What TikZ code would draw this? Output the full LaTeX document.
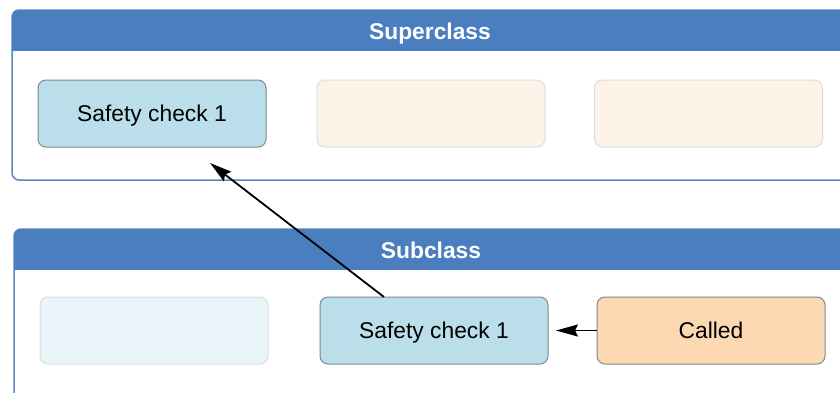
\documentclass[tikz,border=0pt]{standalone}
\usepackage{fontspec}
\setmainfont{Liberation Sans}
\usetikzlibrary{arrows.meta}
\definecolor{hdr}{HTML}{4A7EBF}
\definecolor{frm}{HTML}{5A87C4}
\definecolor{lblue}{HTML}{BADFEA}
\definecolor{pblue}{HTML}{E9F5F9}
\definecolor{peach}{HTML}{FCD9B2}
\definecolor{pcream}{HTML}{FDF3E8}
\definecolor{bgrey}{HTML}{7F8A8E}
\definecolor{lgrey}{HTML}{DDDDDD}
\tikzset{
  box/.style={draw=bgrey, line width=1pt, rounded corners=8pt, minimum width=228pt, minimum height=67pt, inner sep=0pt, text depth=0pt, font=\fontsize{22.8}{27}\selectfont},
  ghost/.style={box, draw=lgrey},
  frame/.style={draw=frm, line width=1.5pt, fill=white, rounded corners=7pt},
  header/.style={fill=hdr, rounded corners=7pt},
  htext/.style={text=white, text depth=0pt, font=\fontsize{22.8}{27}\selectfont\bfseries},
  arr/.style={-{Stealth[length=22pt,width=12pt,inset=3pt]}, line width=1.8pt, black}
}
\begin{document}
\begin{tikzpicture}[x=1pt,y=-1pt]
\clip (0,0) rectangle (840,392);
\fill[white] (0,0) rectangle (840,392);
% Superclass frame
\draw[frame] (12,10) rectangle (852,180);
\begin{scope}
\clip (0,0) rectangle (860,50);
\fill[header] (12,10) rectangle (852,80);
\end{scope}
\node[htext] (suptitle) at (430,31) {Superclass};
% Subclass frame
\draw[frame] (14,229) rectangle (854,420);
\begin{scope}
\clip (0,220) rectangle (860,269);
\fill[header] (14,229) rectangle (854,300);
\end{scope}
\node[htext] (subtitle) at (431,250) {Subclass};
% boxes
\node[box, fill=lblue] (s1) at (152,113.5) {Safety check 1};
\node[ghost, fill=pcream] (s2) at (431,113.5) {};
\node[ghost, fill=pcream] (s3) at (708.5,113.5) {};
\node[ghost, fill=pblue] (b1) at (154,330.5) {};
\node[box, fill=lblue] (b2) at (434,330.5) {Safety check 1};
\node[box, fill=peach] (b3) at (711,330.5) {Called};
\coordinate (tip) at (210,163);
\coordinate (src) at (384,297);
\coordinate (tip2) at (556,330.5);
\draw[arr] (src) -- (tip);
\draw[arr] (b3.west) -- (tip2);
\end{tikzpicture}
\end{document}
